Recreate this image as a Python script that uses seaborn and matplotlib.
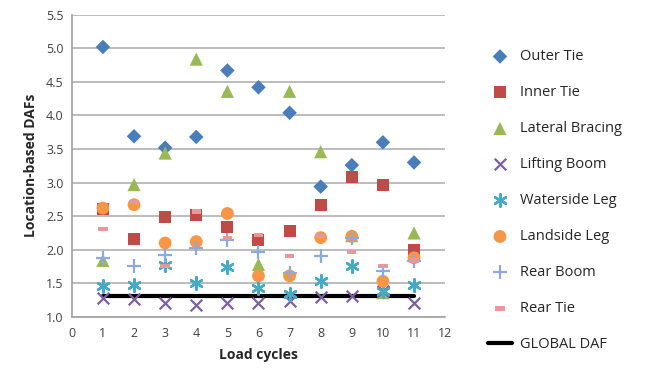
import numpy as np
import pandas as pd
import matplotlib
matplotlib.use("Agg")
import matplotlib.pyplot as plt
from matplotlib.path import Path
import seaborn as sns

sns.set_theme(style="white")
plt.rcParams['font.family'] = ['Open Sans', 'DejaVu Sans']

cycles = [1, 2, 3, 4, 5, 6, 7, 8, 9, 10, 11]
outer_tie = [5.02, 3.69, 3.52, 3.68, 4.67, 4.42, 4.04, 2.94, 3.26, 3.60, 3.30]
inner_tie = [2.60, 2.16, 2.49, 2.52, 2.34, 2.14, 2.28, 2.67, 3.08, 2.97, 2.00]
lateral_bracing = [1.84, 2.97, 3.44, 4.84, 4.36, 1.78, 4.36, 3.46, 2.21, 1.36, 2.25]
lifting_boom = [1.28, 1.26, 1.20, 1.17, 1.21, 1.21, 1.24, 1.30, 1.31, 1.38, 1.21]
waterside_leg = [1.46, 1.48, 1.77, 1.51, 1.75, 1.43, 1.34, 1.54, 1.76, 1.38, 1.48]
landside_leg = [2.62, 2.67, 2.10, 2.12, 2.54, 1.61, 1.61, 2.18, 2.20, 1.53, 1.88]
rear_boom = [1.87, 1.76, 1.92, 2.02, 2.14, 1.97, 1.66, 1.90, 2.18, 1.69, 1.83]
rear_tie = [2.31, 2.71, 1.76, 2.57, 2.18, 2.22, 1.91, 2.21, 1.97, 1.76, 1.84]
global_daf = [1.31] * 11

series = [
    ("Outer Tie", outer_tie),
    ("Inner Tie", inner_tie),
    ("Lateral Bracing", lateral_bracing),
    ("Lifting Boom", lifting_boom),
    ("Waterside Leg", waterside_leg),
    ("Landside Leg", landside_leg),
    ("Rear Boom", rear_boom),
    ("Rear Tie", rear_tie),
]

dash = Path([(-1, -0.45), (1, -0.45), (1, 0.45), (-1, 0.45), (-1, -0.45)],
            [Path.MOVETO, Path.LINETO, Path.LINETO, Path.LINETO, Path.CLOSEPOLY])

styles = {
    "Outer Tie": dict(marker="D", color="#4A7EBB", s=55, edgecolor="none"),
    "Inner Tie": dict(marker="s", color="#BE4B48", s=75, edgecolor="none"),
    "Lateral Bracing": dict(marker="^", color="#98B954", s=90, edgecolor="none"),
    "Lifting Boom": dict(marker="x", color="#7D60A0", s=70, linewidth=1.6),
    "Waterside Leg": dict(marker=(6, 2, 0), color="#46AAC5", s=80, linewidth=1.8),
    "Landside Leg": dict(marker="o", color="#F79646", s=85, edgecolor="none"),
    "Rear Boom": dict(marker="+", color="#8EA9DB", s=90, linewidth=1.6),
    "Rear Tie": dict(marker=dash, color="#E6999A", s=45, edgecolor="none"),
}

fig = plt.figure(figsize=(6.47, 3.79), dpi=100)
ax = fig.add_axes([0.111, 0.164, 0.577, 0.797])

for name, vals in series:
    df = pd.DataFrame({"cycle": cycles, "daf": vals})
    sns.scatterplot(data=df, x="cycle", y="daf", ax=ax, label=name,
                    zorder=3, **styles[name])

gdf = pd.DataFrame({"cycle": cycles, "daf": global_daf})
sns.lineplot(data=gdf, x="cycle", y="daf", ax=ax, color="black", linewidth=3,
             label="GLOBAL DAF", zorder=2)

ax.set_xlim(0, 12)
ax.set_ylim(1.0, 5.5)
ax.set_xticks(range(0, 13))
ax.set_yticks(np.arange(1.0, 5.51, 0.5))
ax.set_yticklabels([f"{v:.1f}" for v in np.arange(1.0, 5.51, 0.5)])
ax.yaxis.grid(True, color="#B0B0B0", linewidth=1.2)
ax.xaxis.grid(False)
ax.set_axisbelow(True)
for side in ["top", "right"]:
    ax.spines[side].set_visible(False)
for side in ["left", "bottom"]:
    ax.spines[side].set_color("#A0A0A0")
    ax.spines[side].set_linewidth(1.2)
ax.tick_params(axis="x", direction="out", length=5, color="#A0A0A0",
               labelsize=9, labelcolor="#404040", pad=2)
ax.tick_params(axis="y", length=0, labelsize=9, labelcolor="#404040", pad=6)

ax.set_xlabel("Load cycles", fontsize=10, fontweight="bold", labelpad=6)
ax.set_ylabel("Location-based DAFs", fontsize=10, fontweight="bold", labelpad=6)

leg = ax.legend(loc="upper left", bbox_to_anchor=(1.10, 0.905), frameon=False,
                fontsize=10.5, labelspacing=1.44, handlelength=1.6,
                handletextpad=0.6, borderaxespad=0)
for t in leg.get_texts():
    t.set_color("#262626")

fig.savefig("out.png", dpi=100)
